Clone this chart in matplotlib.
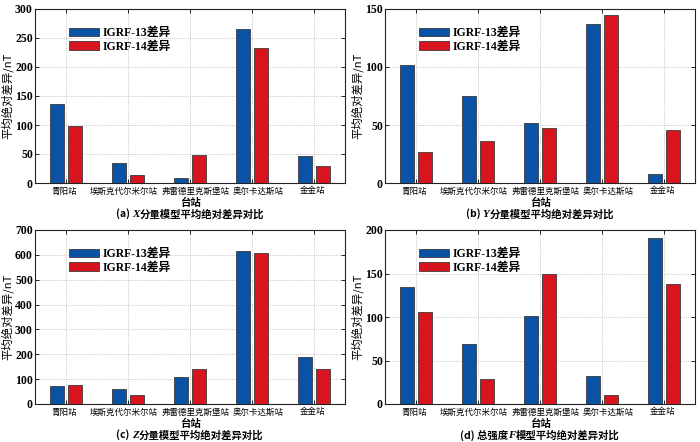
import matplotlib
matplotlib.use("Agg")
import matplotlib.pyplot as plt
import numpy as np
from matplotlib.offsetbox import TextArea, HPacker, AnnotationBbox

plt.rcParams['font.family'] = ['Liberation Serif', 'Noto Sans CJK SC', 'DejaVu Sans']

stations = ["青阳站", "埃斯克代尔米尔站", "弗雷德里克斯堡站", "奥尔卡达斯站", "金金站"]
series_names = ["IGRF-13差异", "IGRF-14差异"]

x_igrf13 = [137, 34, 9, 266, 46]
x_igrf14 = [98, 13, 48, 232, 29]
y_igrf13 = [102, 75, 52, 137, 8]
y_igrf14 = [27, 36, 47, 145, 46]
z_igrf13 = [73, 62, 108, 616, 190]
z_igrf14 = [77, 35, 140, 607, 140]
f_igrf13 = [134, 69, 101, 32, 191]
f_igrf14 = [106, 29, 150, 10, 138]

ylims = [300, 150, 700, 200]
yticks = [[0, 50, 100, 150, 200, 250, 300],
          [0, 50, 100, 150],
          [0, 100, 200, 300, 400, 500, 600, 700],
          [0, 50, 100, 150, 200]]
captions = [("(a) ", "X", "分量模型平均绝对差异对比"),
            ("(b) ", "Y", "分量模型平均绝对差异对比"),
            ("(c) ", "Z", "分量模型平均绝对差异对比"),
            ("(d) 总强度", "F", "模型平均绝对差异对比")]

colors = ["#0a52a5", "#d8141e"]
W, H = 700, 442
fig = plt.figure(figsize=(W / 100, H / 100), dpi=100)

boxes = [(35, 9, 345, 183), (385, 9, 695, 183), (35, 230, 345, 404), (385, 230, 695, 404)]
data = [(x_igrf13, x_igrf14), (y_igrf13, y_igrf14), (z_igrf13, z_igrf14), (f_igrf13, f_igrf14)]
label_shift_pt = [-1.5, -3, 4, 4.2, -1]

serif = ['Liberation Serif', 'Noto Sans CJK SC']
cjk = ['Noto Sans CJK SC', 'Liberation Serif']

for i, ((l, t, r, b), (s13, s14)) in enumerate(zip(boxes, data)):
    ax = fig.add_axes([l / W, 1 - b / H, (r - l) / W, (b - t) / H])
    pos = np.arange(1, len(stations) + 1)
    bw = 0.24
    off = 0.145
    ax.bar(pos - off, s13, bw, color=colors[0], edgecolor='#3a3a3a', linewidth=0.6,
           label=series_names[0], zorder=3)
    ax.bar(pos + off, s14, bw, color=colors[1], edgecolor='#3a3a3a', linewidth=0.6,
           label=series_names[1], zorder=3)
    ax.set_xlim(0.5, 5.5)
    ax.set_ylim(0, ylims[i])
    ax.set_yticks(yticks[i])
    ax.set_xticks(pos)
    ax.set_xticklabels([])
    for j, name in enumerate(stations):
        ax.annotate(name, xy=(pos[j], 0), xycoords=('data', 'axes fraction'),
                    xytext=(label_shift_pt[j], -2.5), textcoords='offset points',
                    ha='center', va='top', family=cjk, fontsize=6.1,
                    annotation_clip=False)
    for lab in ax.get_yticklabels():
        lab.set_fontweight('bold')
        lab.set_fontsize(8.5)
        lab.set_family(serif)
    ax.tick_params(direction='in', length=3, width=0.6, top=True, right=True, pad=1.5)
    ax.grid(True, linestyle=':', color='#b0b0b0', linewidth=0.6, zorder=0)
    for sp in ax.spines.values():
        sp.set_linewidth(0.8)
        sp.set_color('#222222')
    ax.set_ylabel("平均绝对差异/nT", family=cjk, fontsize=8.2, labelpad=1.5)
    ax.set_xlabel("台站", family=cjk, fontsize=7.5, fontweight='bold', labelpad=9)
    ax.legend(loc='upper left', bbox_to_anchor=(0.08, 0.95), frameon=False,
              handlelength=2.5, handleheight=0.75, handletextpad=0.3,
              labelspacing=0.15, borderpad=0.3,
              prop={'family': serif, 'weight': 'bold', 'size': 8.5})
    pre, it, post = captions[i]
    pack = HPacker(children=[
        TextArea(pre, textprops=dict(family=cjk, size=7.5, weight='bold')),
        TextArea(it, textprops=dict(family=serif, size=8, weight='bold', style='italic')),
        TextArea(post, textprops=dict(family=cjk, size=7.5, weight='bold')),
    ], align='baseline', pad=0, sep=0)
    ab = AnnotationBbox(pack, (0.5, -(31 / (b - t))), xycoords='axes fraction',
                        frameon=False, box_alignment=(0.5, 0.5), annotation_clip=False)
    ax.add_artist(ab)

fig.savefig("out.png", dpi=100)
